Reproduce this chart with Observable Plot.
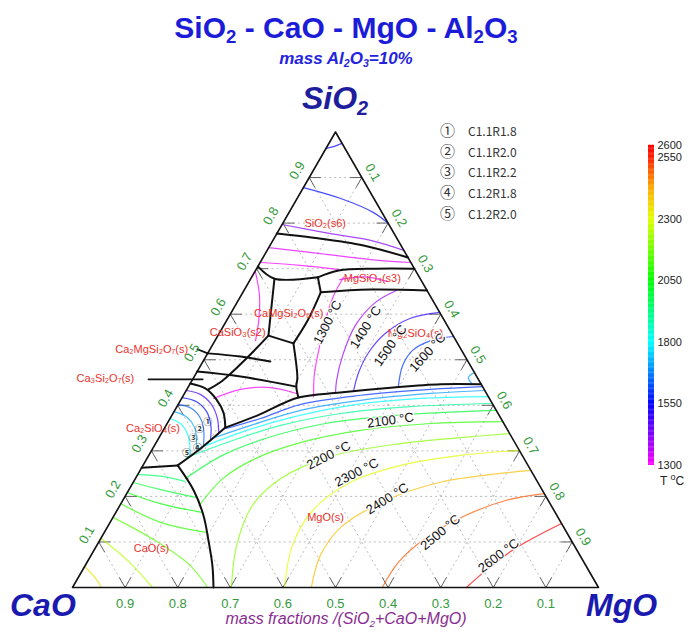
<!DOCTYPE html>
<html><head><meta charset="utf-8">
<script src="https://cdn.jsdelivr.net/npm/d3@7"></script>
<script src="https://cdn.jsdelivr.net/npm/@observablehq/plot@0.6"></script>
<style>
body{margin:0;background:#fff;font-family:Arial,"Liberation Sans",sans-serif;}
#wrap{position:relative;width:692px;height:633px;overflow:hidden;background:#fff;}
#wrap svg{position:absolute;z-index:0;background:transparent;}
.t{position:absolute;white-space:nowrap;z-index:2;}
.t sub{font-size:0.62em;vertical-align:-0.28em;line-height:0;}
</style></head><body><div id="wrap">
<div class="t" style="left:0;width:692px;top:11px;text-align:center;font:bold 30px Arial,'Liberation Sans';color:#1c1cd8;">SiO<sub>2</sub> - CaO - MgO - Al<sub>2</sub>O<sub>3</sub></div>
<div class="t" style="left:0;width:692px;top:49px;text-align:center;font:italic bold 17px Arial,'Liberation Sans';color:#2424e0;">mass Al<sub>2</sub>O<sub>3</sub>=10%</div>
<div class="t" style="left:0;width:670px;top:80px;text-align:center;font:italic bold 32px Arial,'Liberation Sans';color:#1e1e9c;">SiO<sub>2</sub></div>
<div class="t" style="left:10px;top:587px;font:italic bold 32px Arial,'Liberation Sans';color:#1a1ab0;">CaO</div>
<div class="t" style="left:586px;top:587px;font:italic bold 32px Arial,'Liberation Sans';color:#1a1ab0;">MgO</div>
<div class="t" style="left:0;width:692px;top:610px;text-align:center;font:italic 16px Arial,'Liberation Sans';color:#8a2d92;">mass fractions /(SiO<sub>2</sub>+CaO+MgO)</div>
<div class="t" id="legend" style="left:440px;top:120px;font:12px 'Noto Sans CJK SC',sans-serif;color:#333;line-height:19.7px;"></div>
<div class="t" style="left:660px;top:472px;font:12px Arial,'Liberation Sans';color:#222;">T <sup style="font-size:9px">o</sup>C</div>
<script>
// ---------- data (compositions as [SiO2, MgO] mass fractions) ----------
const tickValues = [0.1,0.2,0.3,0.4,0.5,0.6,0.7,0.8,0.9];
const corners = [[0,0],[0,1],[1,0],[0,0]];

const colorStops = [1300,1550,1800,2050,2300,2420,2550,2600];
const colorHex   = ["#ff00ff","#0000ff","#00ffff","#00ff00","#e0ff00","#ffb000","#ff2000","#ff0000"];
const colorbarTicks = [1300,1550,1800,2050,2300,2550,2600];

const legendSymbols = ["①","②","③","④","⑤"];
const legendNames = ["C1.1R1.8","C1.1R2.0","C1.1R2.2","C1.2R1.8","C1.2R2.0"];

const boundaryLines = [
  [[0.777,0],[0.768,0.074],[0.751,0.178],[0.7245,0.2755]],
  [[0.705,0],[0.678,0.045],[0.681,0.126]],
  [[0.681,0.126],[0.696,0.158],[0.700,0.226],[0.700,0.300]],
  [[0.681,0.126],[0.648,0.148]],
  [[0.648,0.148],[0.654,0.239],[0.652,0.348]],
  [[0.648,0.148],[0.586,0.154],[0.536,0.152]],
  [[0.678,0.045],[0.619,0.069],[0.553,0.096]],
  [[0.553,0.096],[0.536,0.152]],
  [[0.536,0.152],[0.461,0.197],[0.441,0.205],[0.417,0.221]],
  [[0.553,0.096],[0.505,0.080],[0.454,0.058],[0.435,0.041]],
  [[0.514,0],[0.507,0.066],[0.496,0.128]],
  [[0.474,0],[0.463,0.088],[0.441,0.205]],
  [[0.448,0],[0.437,0.034],[0.413,0.067],[0.384,0.095],[0.351,0.115]],
  [[0.351,0.115],[0.378,0.163],[0.417,0.221],[0.428,0.295],[0.439,0.391],[0.446,0.477],[0.446,0.554]],
  [[0.351,0.115],[0.305,0.091],[0.268,0.066]],
  [[0.268,0.066],[0.263,0]],
  [[0.268,0.066],[0.213,0.124],[0.158,0.170],[0.103,0.207],[0.048,0.242],[0,0.268]]
];
const leaderLines = [
  [[0.457,-0.084],[0.457,0.019]],
  [[0.523,-0.024],[0.514,0]]
];

const isoSiO2 = [
  {T:1540, pts:[[0.964,0],[0.968,0.012],[0.975,0.025]]},
  {T:1560, pts:[[0.878,0],[0.854,0.083],[0.823,0.161],[0.799,0.201]]},
  {T:1420, pts:[[0.797,0],[0.777,0.102],[0.762,0.186],[0.740,0.260]]},
  {T:1330, pts:[[0.746,0],[0.733,0.105],[0.720,0.207],[0.7135,0.2865]]},
  {T:1310, pts:[[0.7135,0],[0.707,0.080],[0.698,0.157]]}
];
const isoSilicates = [
  {T:1310, pts:[[0.692,0.002],[0.641,0.035],[0.586,0.061],[0.542,0.077]]},
  {T:1310, pts:[[0.415,0.061],[0.435,0.102],[0.439,0.157],[0.426,0.213]]},
  {T:1330, pts:[[0.676,0.170],[0.682,0.215],[0.672,0.262]]}
];
const isoOlivine = [
  {T:1300, pts:[[0.681,0.175],[0.641,0.176],[0.586,0.188],[0.520,0.208],[0.465,0.227],[0.419,0.249]]},
  {T:1400, pts:[[0.652,0.290],[0.626,0.263],[0.575,0.250],[0.509,0.259],[0.454,0.275],[0.426,0.287]]},
  {T:1500, pts:[[0.604,0.396],[0.591,0.347],[0.558,0.316],[0.516,0.305],[0.472,0.308],[0.430,0.319]]},
  {T:1600, pts:[[0.551,0.449],[0.542,0.410],[0.520,0.386],[0.487,0.384],[0.441,0.399]]},
  {T:1700, pts:[[0.472,0.528],[0.461,0.522],[0.448,0.535]]}
];
const isoMgO = [
  {T:1600, pts:[[0.349,0.118],[0.371,0.172],[0.402,0.233],[0.422,0.337],[0.435,0.463],[0.441,0.559]]},
  {T:1700, pts:[[0.329,0.105],[0.356,0.161],[0.389,0.239],[0.411,0.342],[0.426,0.468],[0.4325,0.5675]]},
  {T:1800, pts:[[0.305,0.087],[0.340,0.149],[0.373,0.228],[0.400,0.329],[0.415,0.454],[0.419,0.581]]},
  {T:1900, pts:[[0.285,0.074],[0.321,0.140],[0.356,0.218],[0.382,0.319],[0.397,0.444],[0.404,0.596]]},
  {T:2000, pts:[[0.239,0.095],[0.290,0.140],[0.327,0.203],[0.360,0.301],[0.378,0.425],[0.389,0.611]]},
  {T:2100, pts:[[0.180,0.151],[0.239,0.166],[0.283,0.206],[0.318,0.274],[0.345,0.375],[0.360,0.501],[0.364,0.636]]},
  {T:2200, pts:[[0,0.302],[0.092,0.266],[0.180,0.252],[0.239,0.276],[0.288,0.347],[0.316,0.466],[0.329,0.573],[0.338,0.662]]},
  {T:2300, pts:[[0,0.403],[0.092,0.372],[0.169,0.372],[0.231,0.413],[0.268,0.490],[0.290,0.593],[0.301,0.699]]},
  {T:2400, pts:[[0,0.454],[0.070,0.436],[0.132,0.444],[0.191,0.500],[0.231,0.584],[0.257,0.743]]},
  {T:2500, pts:[[0,0.589],[0.055,0.592],[0.108,0.617],[0.158,0.668],[0.191,0.728],[0.206,0.794]]},
  {T:2600, pts:[[0,0.749],[0.037,0.767],[0.086,0.799],[0.1405,0.8595]]}
];
const isoCaO = [
  {T:1950, pts:[[0.248,0],[0.244,0.049],[0.233,0.097]]},
  {T:2000, pts:[[0.2305,0],[0.215,0.060],[0.198,0.135]]},
  {T:2050, pts:[[0.2086,0],[0.184,0.075],[0.165,0.163]]},
  {T:2100, pts:[[0.184,0],[0.143,0.096],[0.121,0.194]]},
  {T:2150, pts:[[0.154,0],[0.103,0.106],[0.048,0.200],[0,0.2566]]},
  {T:2250, pts:[[0.108,0],[0.053,0.084],[0,0.152]]},
  {T:2350, pts:[[0.046,0],[0.020,0.034],[0,0.055]]}
];
const isoC2S = [
  {T:1480, pts:[[0.4325,0],[0.424,0.031],[0.402,0.063],[0.371,0.090],[0.338,0.109]]},
  {T:1560, pts:[[0.417,0],[0.408,0.032],[0.386,0.062],[0.356,0.085],[0.325,0.100]]},
  {T:1640, pts:[[0.402,0],[0.393,0.030],[0.371,0.058],[0.345,0.077],[0.312,0.093]]},
  {T:1720, pts:[[0.386,0],[0.375,0.029],[0.353,0.055],[0.329,0.071],[0.301,0.085]]},
  {T:1800, pts:[[0.371,0],[0.358,0.028],[0.336,0.051],[0.312,0.067],[0.290,0.078]]}
];

const phaseNames = ["SiO₂(s6)","MgSiO₃(s3)","CaMgSi₂O₆(s)","CaSiO₃(s2)","Mg₂SiO₄(s)","Ca₂MgSi₂O₇(s)","Ca₃Si₂O₇(s)","Ca₂SiO₄(s)","MgO(s)","CaO(s)"];
const phasePos = [[0.799,0.081],[0.678,0.231],[0.602,0.110],[0.560,0.034],[0.558,0.373],[0.523,-0.111],[0.459,-0.167],[0.350,-0.022],[0.154,0.404],[0.086,0.107]];

const tempText = ["1300 °C","1400 °C","1500 °C","1600 °C","2100 °C","2200 °C","2300 °C","2400 °C","2500 °C","2600 °C"];
const tempPos = [[0.582,0.194],[0.571,0.272],[0.531,0.339],[0.516,0.417],[0.367,0.421],[0.290,0.342],[0.2525,0.414],[0.195,0.501],[0.121,0.639],[0.070,0.775]];
const tempAngle = [-63,-58,-55,-48,-8,-27,-27,-32,-40,-37];

const markerPos = [[0.362,0.076],[0.347,0.068],[0.329,0.065],[0.305,0.085],[0.294,0.070]];

// ---------- geometry helpers ----------
const SQ = Math.sqrt(3)/2;
const X = ([s,m]) => m + s/2;
const Y = ([s,m]) => s*SQ;
const flat = (lines) => lines.flatMap((ln,i) => (ln.pts||ln).map(p => ({x:X(p), y:Y(p), id:i, T:ln.T})));

const isoAll = [...isoSiO2,...isoSilicates,...isoOlivine,...isoMgO,...isoCaO,...isoC2S];

const gridRows = tickValues.flatMap(v => [
  [[v,0],[v,1-v]], [[0,v],[1-v,v]], [[0,1-v],[1-v,0]]
]);
const L = 0.022;
const tickRows = tickValues.flatMap(v => [
  [[0,1-v],[L,1-v-L]], [[0,1-v],[L,1-v]],
  [[v,0],[v,L]], [[v,0],[v-L,L]],
  [[1-v,v],[1-v-L,v]], [[1-v,v],[1-v,v-L]]
]);

const colorOpt = {type:"linear", domain: colorStops, range: colorHex, interpolate:"rgb"};

const chart = Plot.plot({
  width: 692, height: 633, margin: 0,
  style: {background:"transparent"},
  x: {domain:[0,1], range:[72,598], axis:null},
  y: {domain:[0,SQ], range:[587,131.5], axis:null},
  color: colorOpt,
  marks: [
    Plot.link(gridRows, {x1:d=>X(d[0]), y1:d=>Y(d[0]), x2:d=>X(d[1]), y2:d=>Y(d[1]), stroke:"#b4b4b4", strokeWidth:0.9, strokeDasharray:"2,3"}),
    Plot.link(tickRows, {x1:d=>X(d[0]), y1:d=>Y(d[0]), x2:d=>X(d[1]), y2:d=>Y(d[1]), stroke:"#555", strokeWidth:0.9}),
    Plot.line(flat(isoAll), {x:"x", y:"y", z:"id", stroke:"T", strokeWidth:1.2, strokeOpacity:0.72, curve:"catmull-rom"}),
    Plot.line(flat(boundaryLines), {x:"x", y:"y", z:"id", stroke:"#111", strokeWidth:2, curve:"catmull-rom"}),
    Plot.line(flat(leaderLines), {x:"x", y:"y", z:"id", stroke:"#111", strokeWidth:1.8}),
    Plot.line(corners, {x:X, y:Y, stroke:"#111", strokeWidth:1.6}),
    Plot.text(tickValues, {x:v=>1-v, y:0, text:v=>v.toFixed(1), dy:16, fill:"#33993a", fontSize:13, fontFamily:"Arial"}),
    Plot.text(tickValues, {x:v=>v/2, y:v=>v*SQ, text:v=>v.toFixed(1), dx:-12, dy:-7, rotate:-60, fill:"#33993a", fontSize:13, fontFamily:"Arial"}),
    Plot.text(tickValues, {x:v=>(1+v)/2, y:v=>(1-v)*SQ, text:v=>v.toFixed(1), dx:11, dy:-5, rotate:60, fill:"#33993a", fontSize:13, fontFamily:"Arial"}),
    Plot.text(phasePos, {x:X, y:Y, text:(d,i)=>phaseNames[i], fill:"#e8322c", fontSize:11, fontFamily:"Arial"}),
    Plot.text(tempPos, {x:X, y:Y, text:(d,i)=>tempText[i], rotate:(d,i)=>tempAngle[i], fill:"#111", fontSize:13, fontFamily:"Arial", stroke:"white", strokeWidth:2.5}),
    Plot.text(markerPos, {x:X, y:Y, text:(d,i)=>legendSymbols[i], fill:"#333", fontSize:9, fontWeight:"bold", fontFamily:"Noto Sans CJK SC"})
  ]
});
chart.style.left = "0px"; chart.style.top = "0px";

const ramp = d3.range(1300, 2600, 5);
const bar = Plot.plot({
  width: 52, height: 350, margin: 0,
  style: {background:"transparent"},
  x: {domain:[0,1], range:[8,14], axis:null},
  y: {domain:[1300,2600], range:[335,15], axis:null},
  color: colorOpt,
  marks: [
    Plot.rect(ramp, {x1:0, x2:1, y1:d=>d, y2:d=>d+6, fill:d=>d+2.5, inset:0}),
    Plot.text(colorbarTicks, {x:1, y:d=>d, text:d=>String(d), dx:3, textAnchor:"start", fill:"#222", fontSize:11, fontFamily:"Arial"})
  ]
});
bar.style.left = "640px"; bar.style.top = "130px";

const wrap = document.getElementById("wrap");
wrap.appendChild(chart);
wrap.appendChild(bar);

document.getElementById("legend").innerHTML = legendSymbols.map((s,i) =>
  `<div><span style="display:inline-block;width:28px;font-size:15px;line-height:19.7px">${s}</span>${legendNames[i]}</div>`).join("");
</script>
</div></body></html>
